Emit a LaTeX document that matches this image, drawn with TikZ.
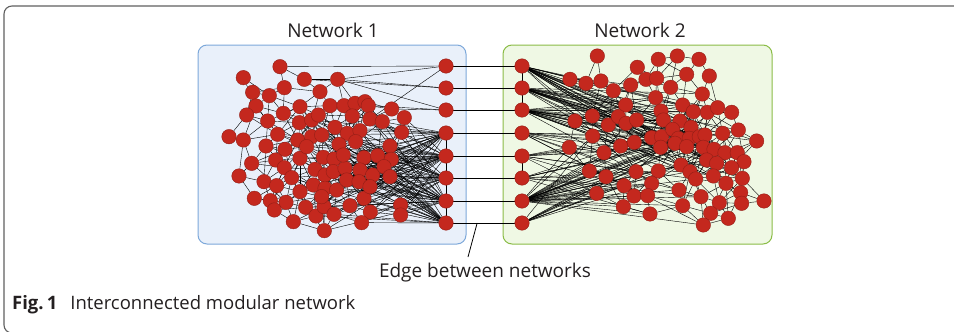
\documentclass[tikz,border=0pt]{standalone}
\usepackage{fontspec}
\setmainfont{Open Sans}
\usetikzlibrary{calc,backgrounds}

\definecolor{nodered}{RGB}{196,40,30}
\definecolor{framegray}{RGB}{95,95,95}
\definecolor{boxbluefill}{RGB}{233,240,250}
\definecolor{boxblueline}{RGB}{125,168,218}
\definecolor{boxgreenfill}{RGB}{239,248,228}
\definecolor{boxgreenline}{RGB}{138,188,70}
\definecolor{inktext}{RGB}{35,31,32}

\tikzset{
  vertex/.style={circle, fill=nodered, draw=nodered!75!black, line width=0.4pt, inner sep=0pt, minimum size=14.5pt},
  link/.style={black, line width=0.8pt},
  netbox/.style={rounded corners=9pt, line width=1pt},
  lbl/.style={text=inktext, font=\fontsize{19}{22}\selectfont, inner sep=0pt}
}

\begin{document}
\begin{tikzpicture}[x=1pt,y=-1pt]
\useasboundingbox (0,0) rectangle (954,332);
\draw[rounded corners=8pt, draw=framegray, line width=1.1pt] (4,6) rectangle (990,333);

% the two networks
\begin{scope}[on background layer]
\draw[netbox, fill=boxbluefill, draw=boxblueline] (198,45) rectangle (466,244);
\draw[netbox, fill=boxgreenfill, draw=boxgreenline] (503,45) rectangle (772,244);
\end{scope}
\node[lbl, anchor=base] (net1) at (333,37) {Network 1};
\node[lbl, anchor=base] (net2) at (640,37) {Network 2};

% interface nodes
\foreach \y [count=\k] in {66,88,110,133,156,178,201,223} {
  \node[vertex] (p\k) at (446,\y) {};
  \node[vertex] (q\k) at (522,\y) {};
}

% network 1
\begin{scope}[shift={(190,40)}, x=0.3333pt, y=-0.3333pt]
\foreach \x/\y [count=\i] in {270/80,160/113,343/118,443/118,188/157,283/143,238/167,390/155,
  198/198,170/225,280/220,330/200,420/197,462/197,495/190,525/185,535/197,605/207,643/233,
  233/243,328/248,365/240,385/225,487/228,540/237,577/245,117/290,160/300,263/283,435/262,
  472/280,510/272,635/277,228/318,285/328,323/300,365/290,395/285,447/313,497/305,600/318,
  185/370,257/360,330/355,400/352,432/357,522/353,563/347,604/358,147/408,222/425,260/437,
  283/383,305/413,375/388,405/405,430/395,465/385,510/390,548/405,582/380,600/410,193/475,
  241/482,288/487,330/455,370/435,405/445,440/450,470/420,507/425,253/510,347/502,378/528,
  402/500,432/523,480/497,522/475,541/516,632/495,632/525,310/545,403/572,515/548,350/320,
  460/345,540/440,395/470} {
  \node[vertex] (a\i) at (\x,\y) {};
  \expandafter\xdef\csname ax\i\endcsname{\x}
  \expandafter\xdef\csname ay\i\endcsname{\y}
}
\end{scope}

% network 2
\begin{scope}[shift={(490,40)}, x=0.3333pt, y=-0.3333pt]
\foreach \x/\y [count=\i] in {322/48,505/58,562/48,627/58,442/82,658/108,240/118,288/130,
  333/123,370/152,422/135,468/118,500/115,542/142,590/103,637/162,497/173,407/195,578/195,
  610/215,652/217,683/203,725/217,513/213,255/243,307/228,355/255,385/230,408/250,440/240,
  520/240,570/243,603/262,745/270,800/303,308/288,485/293,515/290,548/268,565/295,598/295,
  628/290,645/285,698/280,238/322,342/338,392/318,433/307,512/322,555/310,590/320,640/322,
  672/328,705/338,742/338,762/365,573/375,650/360,680/370,725/383,298/393,348/410,438/395,
  505/393,600/395,617/417,670/408,708/430,757/415,402/437,485/430,567/450,320/460,432/468,
  473/467,633/470,688/488,752/458,755/490,822/483,400/500,578/497,480/522,662/520,715/535,
  640/555} {
  \node[vertex] (b\i) at (\x,\y) {};
  \expandafter\xdef\csname bx\i\endcsname{\x}
  \expandafter\xdef\csname by\i\endcsname{\y}
}
\end{scope}

% edges
\begin{scope}[on background layer, link]
\foreach \i in {1,...,88} \foreach \j in {1,...,88} {
  \ifnum\j>\i
    \pgfmathtruncatemacro\ok{(veclen(\csname ax\i\endcsname-\csname ax\j\endcsname,\csname ay\i\endcsname-\csname ay\j\endcsname)<110)&&(mod(\i+2*\j,3)>0)}
    \ifnum\ok=1 \draw (a\i) -- (a\j); \fi
  \fi
}
\foreach \i in {1,...,86} \foreach \j in {1,...,86} {
  \ifnum\j>\i
    \pgfmathtruncatemacro\ok{(veclen(\csname bx\i\endcsname-\csname bx\j\endcsname,\csname by\i\endcsname-\csname by\j\endcsname)<110)&&(mod(\i+2*\j,3)>0)}
    \ifnum\ok=1 \draw (b\i) -- (b\j); \fi
  \fi
}
\foreach \k in {4,...,8} \foreach \i in {1,...,88} {
  \pgfmathtruncatemacro\ok{(\csname ax\i\endcsname>340)&&(\csname ay\i\endcsname>230)&&(mod(\i+\k,2)==0)}
  \ifnum\ok=1 \draw (p\k) -- (a\i); \fi
}
\foreach \k/\i in {1/4,1/1,1/25,2/4,2/3,3/4,3/18,3/17} \draw (p\k) -- (a\i);
\foreach \k in {1,...,3} \foreach \i in {1,...,86} {
  \pgfmathtruncatemacro\ok{(\csname bx\i\endcsname>380)&&(\csname by\i\endcsname>150)&&(\csname by\i\endcsname<430)&&(mod(\i+\k,2)==0)}
  \ifnum\ok=1 \draw (q\k) -- (b\i); \fi
}
\foreach \k in {4,...,8} \foreach \i in {1,...,86} {
  \pgfmathtruncatemacro\ok{(\csname bx\i\endcsname<660)&&(\csname by\i\endcsname>280)&&(mod(\i*\k,7)<2)}
  \ifnum\ok=1 \draw (q\k) -- (b\i); \fi
}
\foreach \k in {1,...,8} \draw (p\k) -- (q\k);
\foreach \k/\kk in {4/5,5/6,6/7,7/8} \draw (p\k) -- (p\kk);
\foreach \k/\kk in {1/2,2/3,5/6} \draw (q\k) -- (q\kk);
\end{scope}

% pointer and caption
\coordinate (tip) at ($(p8)!0.41!(q8)$);
\coordinate (foot) at (468,257);
\draw[line width=0.8pt] (tip) -- (foot);
\node[lbl, anchor=base] (edgelbl) at (485,277) {Edge between networks};
\node[text=inktext, font=\fontsize{18.5}{21}\selectfont, anchor=base west, inner sep=0pt] (caption) at (12,309)
  {\textbf{Fig.\,1}\hspace{13pt}Interconnected modular network};
\end{tikzpicture}
\end{document}
